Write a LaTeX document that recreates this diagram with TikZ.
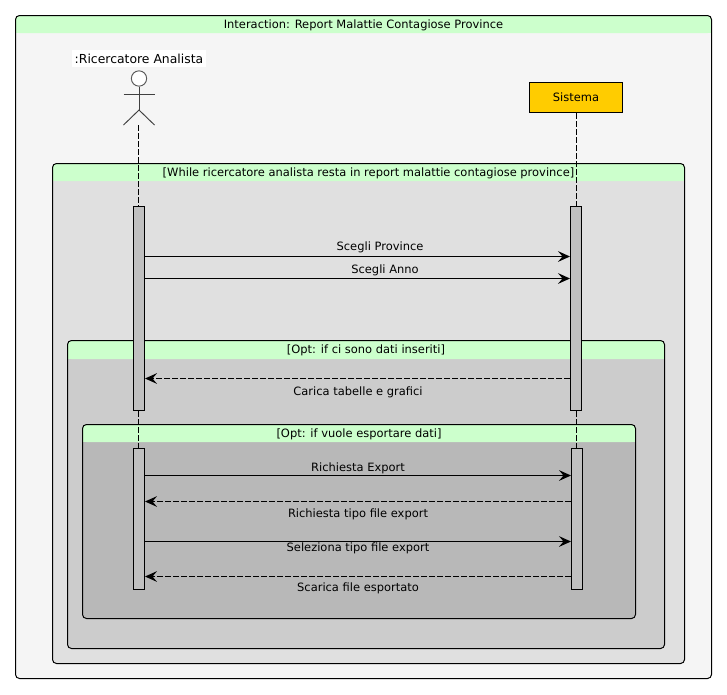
\documentclass[tikz,border=0pt]{standalone}
\usepackage{fontspec}
\setmainfont{DejaVu Sans}
\usetikzlibrary{arrows.meta}
\definecolor{hdr}{HTML}{CCFFCC}
\definecolor{lvlzero}{HTML}{F5F5F5}
\definecolor{lvlone}{HTML}{E0E0E0}
\definecolor{lvltwo}{HTML}{CCCCCC}
\definecolor{lvlthree}{HTML}{B8B8B8}
\definecolor{actfill}{HTML}{C0C0C0}
\definecolor{sysfill}{HTML}{FFCC00}
\tikzset{
  x=0.75pt,y=-0.75pt,
  every node/.style={font=\fontsize{8.6}{10}\selectfont,inner sep=0pt,text=black},
  border/.style={draw=black,line width=0.75pt,rounded corners=3pt},
  lifeline/.style={draw=black,line width=0.75pt,dash pattern=on 4.5pt off 1.5pt},
  actbar/.style={draw=black,line width=0.75pt,fill=actfill,rectangle,minimum width=8.25pt},
  msg/.style={draw=black,line width=0.75pt,-{Stealth[length=9pt,width=8pt,inset=3.4pt]}},
  reply/.style={msg,dash pattern=on 4.5pt off 1.5pt},
  lbl/.style={anchor=center},
  stick/.style={draw=black!75,line width=0.7pt},
}
\newcommand{\umlframe}[8]{%
  \fill[#7,rounded corners=3pt] (#2,#3) rectangle (#4,#5);
  \fill[hdr,rounded corners=3pt] (#2,#3) -- (#4,#3) -- (#4,#6) -- (#2,#6) -- cycle;
  \fill[hdr] (#2,#3+6) rectangle (#4,#6);
  \draw[border] (#2,#3) rectangle (#4,#5);
  \node[lbl] (#1) at ({(#2+#4)/2},{(#3+#6)/2+1}) {#8};
}
\begin{document}
\begin{tikzpicture}
\useasboundingbox (0,0) rectangle (727,694);
\fill[white] (0,0) rectangle (727,694);
\umlframe{fA}{15.5}{15.5}{711.5}{678.5}{33}{lvlzero}{Interaction: Report Malattie Contagiose Province}
\umlframe{fB}{52.5}{163.5}{684.5}{663.5}{181}{lvlone}{[While ricercatore analista resta in report malattie contagiose province]}
\umlframe{fC}{67.5}{340.5}{664.5}{648.5}{359}{lvltwo}{[Opt: if ci sono dati inseriti]}
\umlframe{fD}{82.5}{424.5}{635.5}{618.5}{442}{lvlthree}{[Opt: if vuole esportare dati]}

% actor
\node[fill=white,inner xsep=2pt,inner ysep=3pt,font=\fontsize{9.3}{11}\selectfont] (actlabel) at (139,58.5) {:Ricercatore Analista};
\node[circle,draw=black!65,line width=0.7pt,fill=white,minimum size=11.5pt] (head) at (139,78.5) {};
\coordinate (hip) at (139,110);
\coordinate (armL) at (123.5,94.5);
\coordinate (armR) at (154.5,94.5);
\coordinate (legL) at (123.5,125);
\coordinate (legR) at (154.5,125);
\draw[stick] (head.south) -- (hip);
\draw[stick] (armL) -- (armR);
\draw[stick] (legL) -- (hip) -- (legR);
\coordinate (actfoot) at (138.5,125);

% system
\node[draw=black,line width=0.75pt,fill=sysfill,minimum width=69.75pt,minimum height=22.5pt] (sys) at (576,97.5) {Sistema};

% activations
\node[actbar,minimum height=153pt] (a1) at (139,308.5) {};
\node[actbar,minimum height=105.75pt] (a2) at (139,519) {};
\node[actbar,minimum height=153pt] (s1) at (576,308.5) {};
\node[actbar,minimum height=105.75pt] (s2) at (577,519) {};

% lifelines
\draw[lifeline] (actfoot) -- (a1.north -| actfoot);
\draw[lifeline] (a1.south -| actfoot) -- (a2.north -| actfoot);
\draw[lifeline] (sys.south) -- (s1.north);
\draw[lifeline] (s1.south) -- (s2.north -| s1.south);

% message levels
\coordinate (m1) at (0,256.5);
\coordinate (m2) at (0,278.5);
\coordinate (m3) at (0,378.5);
\coordinate (m4) at (0,475.5);
\coordinate (m5) at (0,501.5);
\coordinate (m6) at (0,541.5);
\coordinate (m7) at (0,576.5);

\draw[msg] (a1.east |- m1) -- (s1.west |- m1);
\draw[msg] (a1.east |- m2) -- (s1.west |- m2);
\draw[reply] (s1.west |- m3) -- (a1.east |- m3);
\draw[msg] (a2.east |- m4) -- (s2.west |- m4);
\draw[reply] (s2.west |- m5) -- (a2.east |- m5);
\draw[msg] (a2.east |- m6) -- (s2.west |- m6);
\draw[reply] (s2.west |- m7) -- (a2.east |- m7);

% labels
\node[lbl] (l1) at (380,247.5) {Scegli Province};
\node[lbl] (l2) at (385,270.5) {Scegli Anno};
\node[lbl] (l3) at (358,392.5) {Carica tabelle e grafici};
\node[lbl] (l4) at (358,468.5) {Richiesta Export};
\node[lbl] (l5) at (358,514.5) {Richiesta tipo file export};
\node[lbl] (l6) at (358,548) {Seleziona tipo file export};
\node[lbl] (l7) at (358,588.5) {Scarica file esportato};
\end{tikzpicture}
\end{document}
